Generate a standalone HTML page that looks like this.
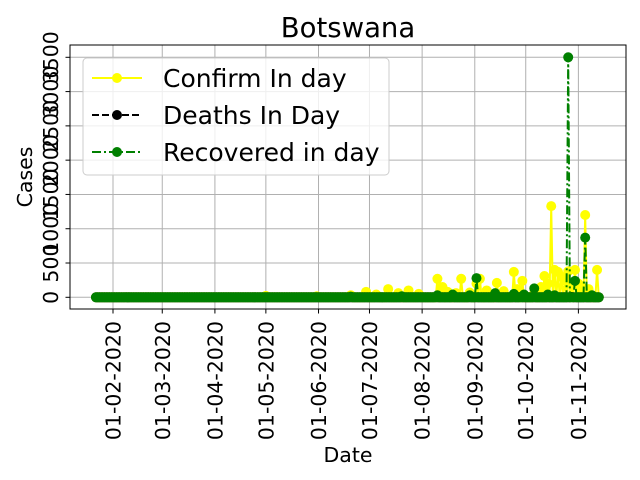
<!DOCTYPE html>
<html><head><meta charset="utf-8"><style>
body{margin:0;background:#fff;}
svg{display:block;font-family:"DejaVu Sans","Liberation Sans",sans-serif;}
</style></head><body>
<svg id="chart" width="640" height="480" viewBox="0 0 640 480">
<rect width="640" height="480" fill="#fff"/>
<g id="grid"></g>
<g id="series"></g>
<rect x="70" y="45" width="556" height="264" fill="none" stroke="#000" stroke-width="1"/>
<g id="axes"></g>
<text x="348" y="37" font-size="27.5" text-anchor="middle">Botswana</text>
<text x="348" y="462" font-size="20.5" text-anchor="middle">Date</text>
<text transform="translate(32,177) rotate(-90)" font-size="20.5" text-anchor="middle">Cases</text>
<g>
<rect x="83" y="58" width="306" height="117" rx="4" fill="#fff" fill-opacity="0.8" stroke="#ccc"/>
<g>
<line x1="92" y1="78" x2="142" y2="78" stroke="#ffff00" stroke-width="2"/><circle cx="117" cy="78" r="5" fill="#ffff00"/>
<text x="163" y="87" font-size="25">Confirm In day</text></g>
<g>
<line x1="92" y1="115" x2="142" y2="115" stroke="#000" stroke-width="2" stroke-dasharray="7,3"/><circle cx="117" cy="115" r="5" fill="#000"/>
<text x="163" y="124" font-size="25">Deaths In Day</text></g>
<g>
<line x1="92" y1="152" x2="142" y2="152" stroke="#008000" stroke-width="2" stroke-dasharray="9,3,2,3"/><circle cx="117" cy="152" r="5" fill="#008000"/>
<text x="163" y="161" font-size="25">Recovered in day</text></g>
</g>
</svg>
<script>
// days since 22-01-2020; sparse nonzero values (others are 0)
const numDays = 297;
const tickLabels = ["01-02-2020","01-03-2020","01-04-2020","01-05-2020","01-06-2020","01-07-2020","01-08-2020","01-09-2020","01-10-2020","01-11-2020"];
const tickDays = [10,39,70,100,131,161,192,223,253,284];
const yTicks = [0,500,1000,1500,2000,2500,3000,3500];
const confirmDays = [100,130,150,159,165,172,178,184,190,201,204,207,212,215,220,224,226,230,236,240,246,248,251,258,262,264,266,268,270,272,274,276,278,280,282,284,286,288,290,295];
const confirmVals = [20,15,30,80,40,120,60,100,50,270,150,80,60,270,70,200,270,100,210,90,370,120,240,60,150,310,200,1330,400,370,300,250,380,200,400,200,150,1200,120,400];
const deathDays = [200,250,280];
const deathVals = [2,3,4];
const recoveredDays = [150,180,201,210,220,224,235,246,252,258,266,270,278,282,288,292];
const recoveredVals = [10,15,30,40,30,280,60,50,40,130,40,30,3500,240,870,30];

const NS="http://www.w3.org/2000/svg";
const X0=113, PXD=1.6985, Y0=297.3, PXV=240/3500;
const xs=d=>X0+(d-10)*PXD;
const ys=v=>Y0-v*PXV;
function mk(tag,attrs,parent){const e=document.createElementNS(NS,tag);for(const k in attrs)e.setAttribute(k,attrs[k]);parent.appendChild(e);return e;}
const grid=document.getElementById('grid'), axes=document.getElementById('axes'), ser=document.getElementById('series');
tickDays.forEach((d,i)=>{
  const x=xs(d);
  const g=mk('line',{x1:x,x2:x,y1:45,y2:309,stroke:'#b0b0b0','stroke-width':1},grid);
  
  
  const t=mk('line',{x1:x,x2:x,y1:309,y2:313.5,stroke:'#000'},axes);
  
  
  const tx=mk('text',{transform:`translate(${x+7.5},321) rotate(-90)`,'font-size':20.5,'text-anchor':'end'},axes);
  tx.textContent=tickLabels[i];
  
  
});
yTicks.forEach(v=>{
  const y=ys(v);
  const g=mk('line',{x1:70,x2:626,y1:y,y2:y,stroke:'#b0b0b0','stroke-width':1},grid);
  
  
  const t=mk('line',{x1:65.5,x2:70,y1:y,y2:y,stroke:'#000'},axes);
  
  
  const tx=mk('text',{transform:`translate(58,${y}) rotate(-90)`,'font-size':20.5,'text-anchor':'middle'},axes);
  tx.textContent=String(v);
  
  
});
function full(days,vals){const a=[];for(let d=0;d<numDays;d++)a.push(0);days.forEach((d,i)=>a[d]=vals[i]);return a;}
function draw(days,vals,color,dash,name){
  const arr=full(days,vals);
  const g=mk('g',{},ser);
  
  
  const pts=arr.map((v,d)=>xs(d).toFixed(2)+','+ys(v).toFixed(2)).join(' ');
  const attrs={points:pts,fill:'none',stroke:color,'stroke-width':2,'stroke-linejoin':'round'};
  if(dash)attrs['stroke-dasharray']=dash;
  mk('polyline',attrs,g);
  arr.forEach((v,d)=>{
    const c=mk('circle',{cx:xs(d),cy:ys(v),r:5,fill:color},g);
    
    
  });
}
draw(confirmDays,confirmVals,'#ffff00',null,'confirm-series');
draw(deathDays,deathVals,'#000000','7,3','deaths-series');
draw(recoveredDays,recoveredVals,'#008000','9,3,2,3','recovered-series');
</script>
</body></html>
